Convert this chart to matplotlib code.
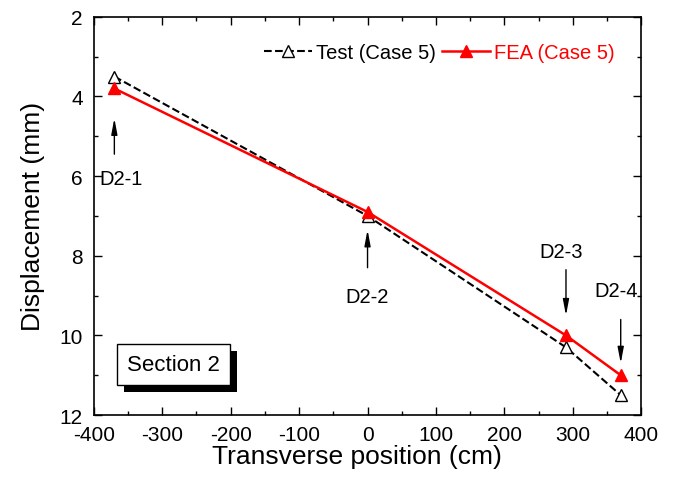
import matplotlib
matplotlib.use('Agg')
import matplotlib.pyplot as plt
import matplotlib.patheffects as pe
from matplotlib.ticker import MultipleLocator

plt.rcParams['font.family'] = ['Liberation Sans', 'DejaVu Sans']
plt.rcParams['axes.unicode_minus'] = False

# data
position = [-370, 0, 290, 370]
test_disp = [3.5, 7.0, 10.3, 11.5]
fea_disp = [3.8, 6.9, 10.0, 11.0]

gauge_names = ['D2-1', 'D2-2', 'D2-3', 'D2-4']
gauge_x = [-370, 0, 290, 370]
arrow_tail = [5.45, 8.3, 8.35, 9.6]
arrow_head = [4.55, 7.35, 9.5, 10.7]
label_xy = [(-360, 6.07), (0, 9.03), (283, 7.9), (364, 8.88)]

fig = plt.figure(figsize=(6.75, 4.81), dpi=100)
ax = fig.add_axes([0.139, 0.135, 0.811, 0.828])

ax.plot(position, test_disp, 'k--', lw=1.5, marker='^', markersize=8,
        markerfacecolor='white', markeredgecolor='k', label='Test (Case 5)')
ax.plot(position, fea_disp, '-', color='red', lw=1.8, marker='^', markersize=8,
        markerfacecolor='red', markeredgecolor='red', label='FEA (Case 5)')

for name, gx, t, h, (lx, ly) in zip(gauge_names, gauge_x, arrow_tail, arrow_head, label_xy):
    ax.annotate('', xy=(gx, h), xytext=(gx, t),
                arrowprops=dict(arrowstyle='-|>,head_length=0.95,head_width=0.18',
                                color='k', lw=1, mutation_scale=10, shrinkA=0, shrinkB=0))
    ax.text(lx, ly, name, fontsize=14.5, ha='center', va='center')

sec = ax.text(-284, 10.72, 'Section 2', fontsize=16, ha='center', va='center',
              bbox=dict(boxstyle='square,pad=0.45', facecolor='white', edgecolor='k', lw=1))
sec.get_bbox_patch().set_path_effects([
    pe.SimplePatchShadow(offset=(5, -5), shadow_rgbFace='k', alpha=1),
    pe.Normal()])

ax.set_xlim(-400, 400)
ax.set_ylim(12, 2)
ax.xaxis.set_major_locator(MultipleLocator(100))
ax.xaxis.set_minor_locator(MultipleLocator(50))
ax.yaxis.set_major_locator(MultipleLocator(2))
ax.yaxis.set_minor_locator(MultipleLocator(1))
ax.tick_params(which='both', direction='in', top=True, right=True, labelsize=15, width=1)
ax.tick_params(which='major', length=6)
ax.tick_params(which='minor', length=3)
ax.tick_params(axis='x', pad=7)
ax.tick_params(axis='y', pad=8)
for s in ax.spines.values():
    s.set_linewidth(1.2)

ax.set_xlabel('Transverse position (cm)', fontsize=19, labelpad=0)
ax.xaxis.label.set_x(0.481)
ax.set_ylabel('Displacement (mm)', fontsize=19, labelpad=10)

leg = ax.legend(loc='upper right', ncol=2, frameon=False, fontsize=14.5,
                handlelength=2.4, columnspacing=0.3, handletextpad=0.2,
                bbox_to_anchor=(0.985, 0.98))
for txt, c in zip(leg.get_texts(), ['black', 'red']):
    txt.set_color(c)

fig.savefig('out.png', dpi=100)
